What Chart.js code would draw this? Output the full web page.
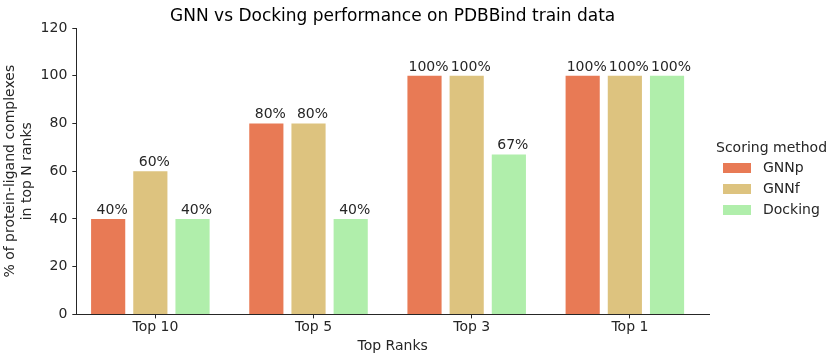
<!DOCTYPE html>
<html lang="en">
<head>
  <meta charset="UTF-8">
  <title>GNN vs Docking</title>
  <script src="https://cdn.jsdelivr.net/npm/chart.js"></script>
  <style>
    html, body { margin: 0; padding: 0; background: #fff; }
    #wrap { width: 839px; height: 360px; }
  </style>
</head>
<body>
  <div id="wrap"><canvas id="chart" width="839" height="360"></canvas></div>
  <script>
    var categories = ['Top 10', 'Top 5', 'Top 3', 'Top 1'];
    var gnnp = [40, 80, 100, 100];
    var gnnf = [60, 80, 100, 100];
    var docking = [40, 40, 67, 100];
    var yTicks = [0, 20, 40, 60, 80, 100, 120];
    // bar groups sit a little left of their tick in the original figure
    var groupShift = 0.032;

    var font = 'DejaVu Sans';
    Chart.defaults.font.family = font;
    Chart.defaults.color = '#262626';

    function points(values) {
      return values.map(function(v, i) { return { x: i, y: v }; });
    }

    // draws "NN%" above each bar, like the matplotlib annotations
    var barLabels = {
      id: 'barLabels',
      afterDatasetsDraw: function(chart) {
        var ctx = chart.ctx;
        ctx.save();
        ctx.font = '14px ' + font;
        ctx.fillStyle = '#262626';
        ctx.textAlign = 'center';
        ctx.textBaseline = 'alphabetic';
        chart.data.datasets.forEach(function(ds, i) {
          chart.getDatasetMeta(i).data.forEach(function(bar, j) {
            ctx.fillText(ds.data[j].y + '%', bar.x + 4, bar.y - 5);
          });
        });
        ctx.restore();
      }
    };

    // title centred over the axes and legend to the right of them
    var sideParts = {
      id: 'sideParts',
      afterDraw: function(chart) {
        var ctx = chart.ctx;
        var area = chart.chartArea;
        ctx.save();
        ctx.font = '17px ' + font;
        ctx.fillStyle = '#000';
        ctx.textAlign = 'center';
        ctx.textBaseline = 'middle';
        ctx.fillText('GNN vs Docking performance on PDBBind train data', (area.left + area.right) / 2, 16.5);

        var x0 = area.right + 7;
        ctx.font = '14px ' + font;
        ctx.fillStyle = '#262626';
        ctx.textAlign = 'left';
        ctx.fillText('Scoring method', x0, 148);
        chart.data.datasets.forEach(function(ds, i) {
          var y = 168 + i * 21;
          ctx.fillStyle = ds.backgroundColor;
          ctx.fillRect(x0 + 7, y - 5, 28, 10);
          ctx.fillStyle = '#262626';
          ctx.fillText(ds.label, x0 + 47, y);
        });
        ctx.restore();
      }
    };

    new Chart(document.getElementById('chart'), {
      type: 'bar',
      data: {
        labels: categories,
        datasets: [
          { label: 'GNNp', data: points(gnnp), backgroundColor: '#e87a55', xAxisID: 'xb' },
          { label: 'GNNf', data: points(gnnf), backgroundColor: '#ddc37f', xAxisID: 'xb' },
          { label: 'Docking', data: points(docking), backgroundColor: '#b0eeab', xAxisID: 'xb' }
        ]
      },
      options: {
        responsive: false,
        animation: false,
        categoryPercentage: 0.8,
        barPercentage: 0.81,
        layout: { padding: { top: 28, right: 130, left: 1, bottom: 3 } },
        scales: {
          x: {
            type: 'category',
            grid: { drawOnChartArea: false, offset: false, tickLength: 4, color: '#262626' },
            border: { color: '#262626', width: 1 },
            ticks: { font: { size: 14 }, padding: 1 },
            title: { display: true, text: 'Top Ranks', font: { size: 14 }, padding: { top: 1, bottom: 2 } }
          },
          xb: {
            type: 'linear',
            display: false,
            offset: false,
            min: -0.5 + groupShift,
            max: categories.length - 0.5 + groupShift,
            afterBuildTicks: function(axis) {
              axis.ticks = categories.map(function(c, i) { return { value: i }; });
            }
          },
          y: {
            min: 0,
            max: 120,
            afterBuildTicks: function(axis) {
              axis.ticks = yTicks.map(function(v) { return { value: v }; });
            },
            grid: { drawOnChartArea: false, tickLength: 4, color: '#262626' },
            border: { color: '#262626', width: 1 },
            ticks: { font: { size: 14 }, padding: 5 },
            title: {
              display: true,
              text: ['% of protein-ligand complexes', 'in top N ranks'],
              font: { size: 14 },
              padding: { top: 1, bottom: 0 }
            }
          }
        },
        plugins: {
          title: { display: false },
          legend: { display: false },
          tooltip: { enabled: false }
        }
      },
      plugins: [barLabels, sideParts]
    });
  </script>
</body>
</html>
